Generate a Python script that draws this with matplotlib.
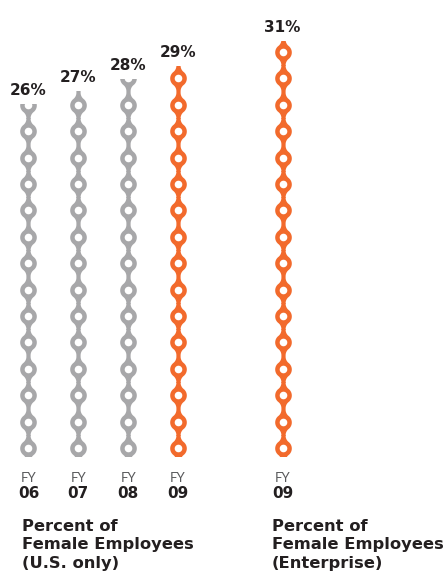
import numpy as np
import matplotlib
matplotlib.use("Agg")
import matplotlib.pyplot as plt
from matplotlib.path import Path
from matplotlib.patches import Rectangle

# data
fy_labels = ["06", "07", "08", "09", "09"]
values = [26, 27, 28, 29, 31]
column_x = [0, 1, 2, 3, 5.1]
column_colors = ["#a7a7a9", "#a7a7a9", "#a7a7a9", "#f26a2c", "#f26a2c"]
group_titles = ["Percent of\nFemale Employees\n(U.S. only)",
                "Percent of\nFemale Employees\n(Enterprise)"]
group_title_x = [22, 272]  # px from left

DPI = 100
plt.rcParams['font.family'] = ['DejaVu Sans']

# one link of the chain (bead with hole + half necks), in pixels
R, r, w, f, half = 8.3, 3.8, 2.1, 8.0, 13.5
yc = np.sqrt((R + f) ** 2 - (w + f) ** 2)
yt = yc * R / (R + f)

def halfwidth(y):
    a = abs(y)
    if a <= yt:
        return np.sqrt(R * R - a * a)
    if a <= yc:
        return w + f - np.sqrt(max(f * f - (a - yc) ** 2, 0))
    return w

ys = np.linspace(half, -half, 301)
outer = [(halfwidth(y), y) for y in ys] + [(-halfwidth(y), y) for y in ys[::-1]]
outer.append(outer[0])
t = np.linspace(0, 2 * np.pi, 81)
hole = list(zip(r * np.cos(t), r * np.sin(t)))
link = Path.make_compound_path(Path(outer, closed=True), Path(hole, closed=True))
link_size = 2 * half * 72 / DPI  # points

px_per_pct = 12.65
pitch = 26.4 / px_per_pct
chain_start = -1.19
chain_bottom = -1.85

fig = plt.figure(figsize=(4.48, 5.78), dpi=DPI)
ax = fig.add_axes([0, 0, 1, 1])
ax.set_xlim(-0.572, 8.42)
ax.set_ylim(-11.46, 34.23)
ax.axis("off")

for x, v, c, fy in zip(column_x, values, column_colors, fy_labels):
    centers = np.arange(chain_start, v + pitch, pitch)
    ln, = ax.plot([x] * len(centers), centers, linestyle="none", marker=link,
                  markersize=link_size, markerfacecolor=c, markeredgewidth=0)
    clip = Rectangle((x - 0.5, chain_bottom), 1, v - chain_bottom,
                     transform=ax.transData)
    ln.set_clip_path(clip)
    ax.annotate(f"{v}%", (x, v), xytext=(0, 6.5), textcoords="offset points",
                ha="center", va="baseline", fontsize=11, fontweight="heavy",
                color="#231f20")
    ax.text(x, -3.55, "FY", ha="center", va="center", fontsize=9.5,
            color="#58595b", family=["Lato", "DejaVu Sans"])
    ax.text(x, -4.75, fy, ha="center", va="center", fontsize=11,
            fontweight="heavy", color="#231f20")

for title, tx in zip(group_titles, group_title_x):
    fig.text(tx / 448, 1 - 519 / 578, title, ha="left", va="top",
             fontsize=11.8, fontweight="bold", color="#231f20", linespacing=1.28)

fig.savefig("out.png", dpi=DPI, facecolor="white")
